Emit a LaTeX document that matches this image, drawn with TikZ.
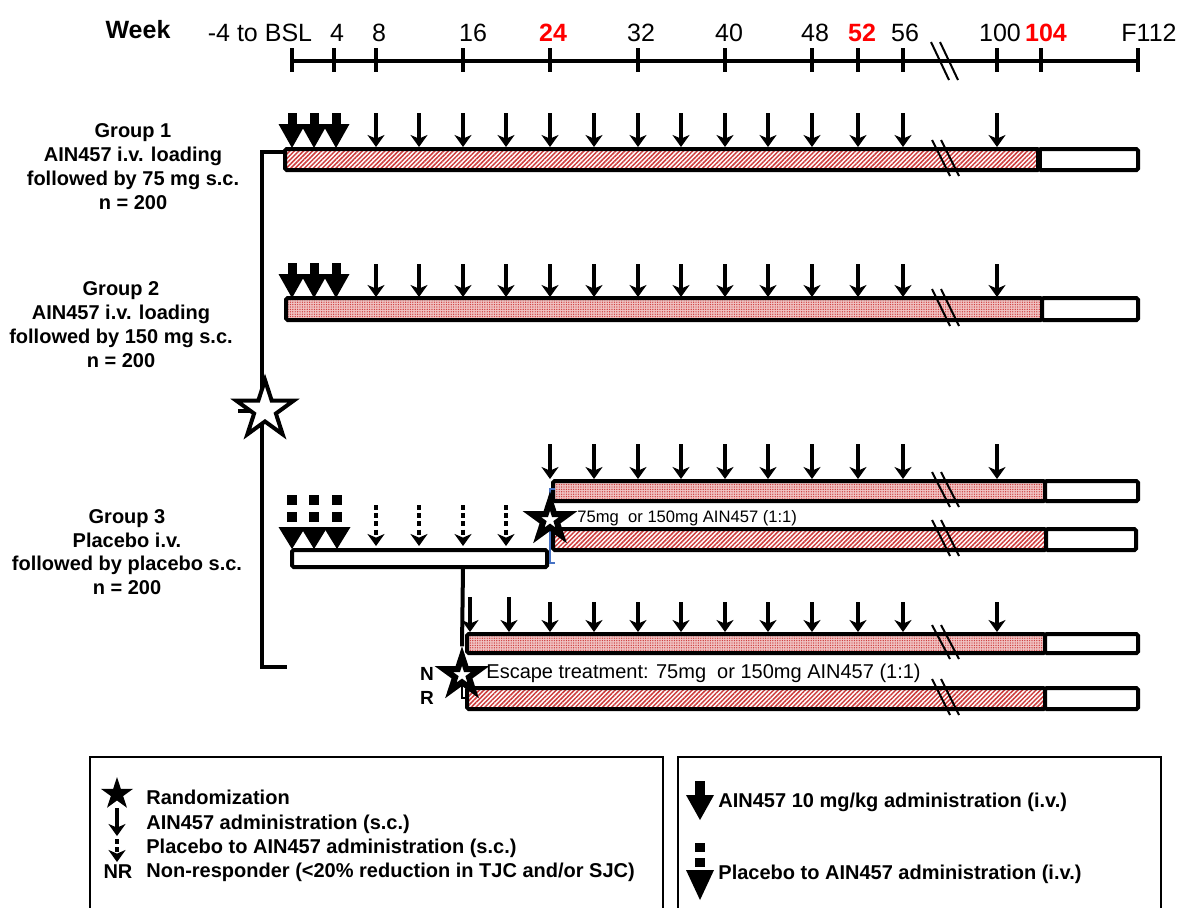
\documentclass[tikz,border=0pt]{standalone}
\usepackage{fontspec}
\setmainfont{Liberation Sans}
\usetikzlibrary{arrows.meta,patterns,patterns.meta,shapes.geometric}
\definecolor{hatchred}{RGB}{205,60,60}
\definecolor{dotpink}{RGB}{240,195,195}
\definecolor{bracketblue}{RGB}{70,114,196}
\newcommand{\ivdown}[2]{%
  \fill (#1-4.5,#2-35) rectangle (#1+4.5,#2-23);
  \fill (#1-13.5,#2-24) -- (#1+13.5,#2-24) -- (#1,#2) -- cycle;}
\newcommand{\pivdown}[2]{%
  \fill (#1-5,#2-54) rectangle (#1+5,#2-44);
  \fill (#1-5,#2-37) rectangle (#1+5,#2-27);
  \fill (#1-13.5,#2-22) -- (#1+13.5,#2-22) -- (#1,#2) -- cycle;}
\newcommand{\brkmark}[2]{%
  \draw[brkline] (932,#1-9) -- (950,#2+6);
  \draw[brkline] (941,#1-9) -- (959,#2+6);}
\begin{document}
\begin{tikzpicture}[
  x=0.5pt, y=-0.5pt,
  barline/.style={line width=2pt, rounded corners=0.8pt},
  stripebar/.style={barline, pattern={Lines[angle=45,distance=1.6pt,line width=0.75pt]}, pattern color=hatchred},
  dotbar/.style={barline, preaction={fill=dotpink}, pattern={Dots[distance=1.2pt,radius=0.35pt]}, pattern color=hatchred},
  whitebar/.style={barline, fill=white},
  scarrow/.style={line width=1.6pt, -{Stealth[length=6pt,width=8.5pt,inset=1.8pt]}},
  pbarrow/.style={line width=1.6pt, dash pattern=on 2.5pt off 1.6pt, -{Stealth[length=6pt,width=8.5pt,inset=1.8pt]}},
  axisline/.style={line width=2pt},
  tickline/.style={line width=2pt},
  brkline/.style={line width=1pt},
  conn/.style={line width=2pt},
  thinconn/.style={line width=0.6pt},
  blueconn/.style={line width=1pt, draw=bracketblue},
  randstar/.style={star, star points=5, star point ratio=2.618, draw, line width=2pt, fill=white, minimum size=30pt, inner sep=0pt},
  smallstar/.style={star, star points=5, star point ratio=2.618, draw, line width=3pt, fill=white, minimum size=19pt, inner sep=0pt},
  legstar/.style={star, star points=5, star point ratio=2.618, fill=black, minimum size=17pt, inner sep=0pt},
  axlab/.style={anchor=base, inner sep=0pt, font=\fontsize{12.5}{15}\selectfont},
  axred/.style={axlab, text=red, font=\bfseries\fontsize{12.5}{15}\selectfont},
  grplab/.style={anchor=base, inner sep=0pt, font=\bfseries\fontsize{10}{12}\selectfont},
  leglab/.style={anchor=base west, inner sep=0pt, font=\bfseries\fontsize{10}{12}\selectfont},
  plainlab/.style={anchor=west, inner sep=0pt, font=\fontsize{10}{12}\selectfont},
  legbox/.style={line width=0.75pt}
]
\useasboundingbox (0,0) rectangle (1181,907);

% ---------- time axis ----------
\node[axlab, font=\bfseries\fontsize{12.5}{15}\selectfont] (week) at (138,38) {Week};
\draw[axisline] (292,61) -- (1138,61);
\foreach \t in {292,334,376,463,550,638,725,812,858,903,997,1041,1138}
  \draw[tickline] (\t,48) -- (\t,72);
\draw[brkline] (931,42) -- (949,80);
\draw[brkline] (940,42) -- (958,80);
\node[axlab] (l0) at (260,41) {-4 to BSL};
\node[axlab] (l4) at (337,41) {4};
\node[axlab] (l8) at (379,41) {8};
\node[axlab] (l16) at (473,41) {16};
\node[axred] (l24) at (553,41) {24};
\node[axlab] (l32) at (641,41) {32};
\node[axlab] (l40) at (729,41) {40};
\node[axlab] (l48) at (815,41) {48};
\node[axred] (l52) at (862,41) {52};
\node[axlab] (l56) at (905,41) {56};
\node[axlab] (l100) at (1000,41) {100};
\node[axred] (l104) at (1046,41) {104};
\node[axlab] (l112) at (1149,41) {F112};

% ---------- group labels ----------
\node[grplab] (g1a) at (133,137) {Group 1};
\node[grplab] (g1b) at (133,161) {AIN457 i.v. loading};
\node[grplab] (g1c) at (133,185) {followed by 75 mg s.c.};
\node[grplab] (g1d) at (133,209) {n = 200};
\node[grplab] (g2a) at (121,295) {Group 2};
\node[grplab] (g2b) at (121,319) {AIN457 i.v. loading};
\node[grplab] (g2c) at (121,343) {followed by 150 mg s.c.};
\node[grplab] (g2d) at (121,367) {n = 200};
\node[grplab] (g3a) at (127,523) {Group 3};
\node[grplab] (g3b) at (127,547) {Placebo i.v.};
\node[grplab] (g3c) at (127,570) {followed by placebo s.c.};
\node[grplab] (g3d) at (127,594) {n = 200};

% ---------- randomisation bracket ----------
\draw[conn] (286,152) -- (262,152) -- (262,667) -- (287,667);
\draw[conn] (238,411) -- (254,411);
\node[randstar] (rand) at (265,410) {};

% ---------- group 1 ----------
\draw[stripebar] (285,149) rectangle (1039,170);
\draw[whitebar] (1039,149) rectangle (1138,170);
\draw[line width=3.2pt] (1039,149) -- (1039,170);
\brkmark{149}{170}
\foreach \x in {292,314,336} {\ivdown{\x}{148}}
\foreach \x in {376,419,463,506,550,594,638,681,725,768,812,858,903,997}
  \draw[scarrow] (\x,113) -- (\x,147);

% ---------- group 2 ----------
\draw[dotbar] (286,298) rectangle (1042,320);
\draw[whitebar] (1042,298) rectangle (1138,320);
\brkmark{298}{320}
\foreach \x in {292,314,336} {\ivdown{\x}{298}}
\foreach \x in {376,419,463,506,550,594,638,681,725,768,812,858,903,997}
  \draw[scarrow] (\x,264) -- (\x,297);

% ---------- group 3: placebo period ----------
\draw[whitebar] (292,550) rectangle (547,567);
\foreach \x in {292,314,337} {\pivdown{\x}{549}}
\foreach \x in {376,419,463,506}
  \draw[pbarrow] (\x,505) -- (\x,546);

% upper branch (week 24)
\draw[dotbar] (553,481) rectangle (1045,501);
\draw[whitebar] (1045,481) rectangle (1138,501);
\brkmark{481}{501}
\foreach \x in {550,594,638,681,725,768,812,858,903,997}
  \draw[scarrow] (\x,444) -- (\x,479);
\draw[stripebar] (553,529) rectangle (1046,550);
\draw[whitebar] (1046,529) rectangle (1136,550);
\brkmark{529}{550}
\draw[blueconn] (555,489) -- (550,489) -- (550,563) -- (555,563);
\node[smallstar] (star24) at (550,520) {};
\node[plainlab, font=\fontsize{8.3}{10}\selectfont] (t24) at (577,518) {75mg\ \ or 150mg AIN457 (1:1)};

% lower branch (non-responders, week 16)
\coordinate (pbsouth) at (463,567);
\draw[dotbar] (467,634) rectangle (1045,653);
\draw[whitebar] (1045,634) rectangle (1138,653);
\brkmark{634}{653}
\foreach \x in {470,509} \draw[scarrow] (\x,597) -- (\x,632);
\foreach \x in {550,594,638,681,725,768,812,858,903,997}
  \draw[scarrow] (\x,602) -- (\x,632);
\draw[stripebar] (467,688) rectangle (1045,709);
\draw[whitebar] (1045,688) rectangle (1138,709);
\brkmark{688}{709}
\node[smallstar] (starNR) at (462,675) {};
\draw[conn] (pbsouth) -- (starNR.north);
\coordinate (nrhook) at (467,698);
\draw[thinconn] (starNR.south) -- (462,698) -- (nrhook);
\node[plainlab] (tesc) at (486,673) {Escape treatment: 75mg\ \ or 150mg AIN457 (1:1)};
\node[anchor=base, inner sep=0pt, font=\bfseries\fontsize{9.5}{11}\selectfont] (nrN) at (427,680) {N};
\node[anchor=base, inner sep=0pt, font=\bfseries\fontsize{9.5}{11}\selectfont] (nrR) at (427,704) {R};

% ---------- legends ----------
\draw[legbox] (90,915) -- (90,757) -- (663,757) -- (663,915);
\draw[legbox] (678,915) -- (678,757) -- (1161,757) -- (1161,915);

\node[legstar] (lstar) at (117,794) {};
\node[leglab] (lt1) at (146,804) {Randomization};
\draw[scarrow] (117,808) -- (117,836);
\node[leglab] (lt2) at (146,829) {AIN457 administration (s.c.)};
\draw[pbarrow] (117,839) -- (117,862);
\node[leglab] (lt3) at (146,853) {Placebo to AIN457 administration (s.c.)};
\node[anchor=base, inner sep=0pt, font=\bfseries\fontsize{10}{12}\selectfont] (lnr) at (118,878) {NR};
\node[leglab] (lt4) at (146,877) {Non-responder (<20\% reduction in TJC and/or SJC)};

\fill (695,781) rectangle (705,797);
\fill (686,795) -- (714,795) -- (700,820) -- cycle;
\node[leglab] (rt1) at (718,807) {AIN457 10 mg/kg administration (i.v.)};
\fill (695,843) rectangle (705,852);
\fill (695,858) rectangle (705,867);
\fill (686,870) -- (714,870) -- (700,900) -- cycle;
\node[leglab] (rt2) at (718,879) {Placebo to AIN457 administration (i.v.)};
\end{tikzpicture}
\end{document}
